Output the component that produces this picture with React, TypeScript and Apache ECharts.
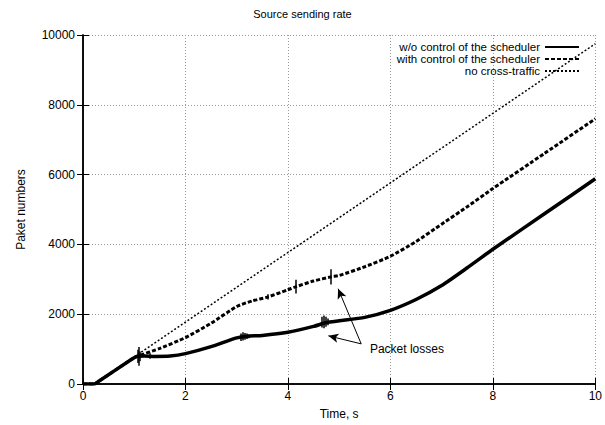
import React, { useEffect, useRef } from "react";
import * as echarts from "echarts";

const seriesNames = [
  "w/o control of the scheduler",
  "with control of the scheduler",
  "no cross-traffic",
];

const xTicks = [0, 2, 4, 6, 8, 10];
const yTicks = [0, 2000, 4000, 6000, 8000, 10000];

const noTrafficT = [0, 0.22, 10];
const noTrafficV = [0, 0, 9750];

const woControlT = [
  0, 0.22, 0.3, 0.95, 1.05, 1.2, 1.4, 1.7, 2.0, 2.5, 3.0, 3.2, 3.5, 4.0, 4.5, 4.75, 5.0, 5.5,
  6.0, 6.5, 7.0, 7.5, 8.0, 9.0, 10,
];
const woControlV = [
  0, 0, 70, 710, 790, 800, 790, 800, 870, 1070, 1320, 1370, 1390, 1480, 1650, 1760, 1810, 1910,
  2110, 2420, 2820, 3330, 3860, 4870, 5880,
];

const withControlT = [
  0, 0.22, 0.3, 0.95, 1.05, 1.5, 2.0, 2.5, 3.0, 3.3, 3.6, 4.0, 4.16, 4.5, 4.84, 5.0, 5.5, 6.0,
  6.5, 7.0, 7.5, 8.0, 9.0, 10,
];
const withControlV = [
  0, 0, 70, 710, 790, 1020, 1330, 1740, 2220, 2380, 2490, 2700, 2790, 2950, 3070, 3110, 3360, 3660,
  4080, 4580, 5080, 5600, 6600, 7600,
];

// packet-loss marks: time, low, high
const woLossT = [1.06, 1.08, 1.1, 1.3, 3.08, 3.12, 3.16, 3.2, 3.24, 4.66, 4.7, 4.74, 4.78];
const woLossLow = [600, 520, 650, 720, 1230, 1250, 1270, 1290, 1310, 1620, 1600, 1640, 1680];
const woLossHigh = [980, 1060, 930, 880, 1450, 1480, 1460, 1450, 1420, 1930, 1960, 1930, 1880];

const withLossT = [3.6, 4.16, 4.84];
const withLossLow = [2420, 2590, 2850];
const withLossHigh = [2570, 2990, 3290];

const annotationText = "Packet losses";
const arrowTail = [5.43, 1150];
const arrowTips = [
  [4.79, 1380],
  [4.98, 2730],
];
const labelAnchor = [5.6, 990];

const zip = (t: number[], v: number[]) => t.map((x, i) => [x, v[i]]);
const lossSegments = (t: number[], lo: number[], hi: number[]) =>
  t.map((x, i) => [{ coord: [x, lo[i]] }, { coord: [x, hi[i]] }]);

export default function App() {
  const ref = useRef<HTMLDivElement>(null);
  useEffect(() => {
    if (!ref.current) return;
    const chart = echarts.init(ref.current, undefined, { renderer: "svg" });
    const font = "Liberation Sans, Arial, sans-serif";
    const commonAxis = {
      min: 0,
      axisLine: { show: true, lineStyle: { color: "#000", width: 1.5 } },
      axisTick: { show: true, inside: true, length: 6, lineStyle: { color: "#000", width: 1 } },
    };
    const lossMarkLine = (t: number[], lo: number[], hi: number[]) => ({
      silent: true,
      symbol: ["none", "none"],
      label: { show: false },
      lineStyle: { color: "#000", width: 1.5, type: "solid" },
      data: lossSegments(t, lo, hi),
    });
    chart.setOption({
      animation: false,
      backgroundColor: "#fff",
      textStyle: { fontFamily: font },
      title: {
        text: "Source sending rate",
        left: "center",
        top: 3,
        textStyle: { fontSize: 11, fontWeight: "normal", color: "#000", fontFamily: font },
      },
      legend: {
        orient: "vertical",
        right: 25,
        top: 41,
        align: "right",
        itemWidth: 34,
        itemHeight: 11.5,
        itemGap: 0,
        padding: 0,
        itemStyle: { opacity: 0 },
        textStyle: { fontSize: 11.5, lineHeight: 11.5, color: "#000", fontFamily: font },
        data: seriesNames,
      },
      grid: { left: 83, right: 8, top: 35, bottom: 35, containLabel: false },
      xAxis: [
        {
          ...commonAxis,
          type: "value",
          max: 10,
          interval: 2,
          position: "bottom",
          name: "Time, s",
          nameLocation: "middle",
          nameGap: 24,
          nameTextStyle: { fontSize: 12, color: "#000", fontFamily: font },
          axisLabel: {
            color: "#000",
            fontSize: 12,
            margin: 6,
            fontFamily: font,
            customValues: xTicks,
            formatter: (v: number) => String(v),
          },
          splitLine: { show: true, lineStyle: { color: "#999", type: [1, 2], width: 1 } },
        },
        {
          ...commonAxis,
          type: "value",
          max: 10,
          interval: 2,
          position: "top",
          axisLabel: { show: false },
          splitLine: { show: false },
        },
      ],
      yAxis: [
        {
          ...commonAxis,
          type: "value",
          max: 10000,
          interval: 2000,
          position: "left",
          name: "Paket numbers",
          nameLocation: "middle",
          nameGap: 56,
          nameTextStyle: { fontSize: 12, color: "#000", fontFamily: font },
          axisLabel: {
            color: "#000",
            fontSize: 12,
            margin: 8,
            fontFamily: font,
            customValues: yTicks,
            formatter: (v: number) => String(v),
          },
          splitLine: { show: true, lineStyle: { color: "#999", type: [1, 2], width: 1 } },
        },
        {
          ...commonAxis,
          type: "value",
          max: 10000,
          interval: 2000,
          position: "right",
          axisLabel: { show: false },
          splitLine: { show: false },
        },
      ],
      series: [
        {
          name: seriesNames[0],
          type: "line",
          symbol: "none",
          smooth: 0.2,
          data: zip(woControlT, woControlV),
          lineStyle: { color: "#000", width: 3.5 },
          itemStyle: { color: "#000" },
          z: 5,
          markLine: lossMarkLine(woLossT, woLossLow, woLossHigh),
        },
        {
          name: seriesNames[1],
          type: "line",
          symbol: "none",
          smooth: 0.2,
          data: zip(withControlT, withControlV),
          lineStyle: { color: "#000", width: 3, type: [4, 2] },
          itemStyle: { color: "#000" },
          z: 4,
          markLine: lossMarkLine(withLossT, withLossLow, withLossHigh),
        },
        {
          name: seriesNames[2],
          type: "line",
          symbol: "none",
          data: zip(noTrafficT, noTrafficV),
          lineStyle: { color: "#000", width: 1.5, type: [2, 2] },
          itemStyle: { color: "#000" },
          z: 3,
          markLine: {
            silent: true,
            symbol: ["none", "arrow"],
            symbolSize: [7, 10],
            label: { show: false },
            lineStyle: { color: "#000", width: 1, type: "solid" },
            data: arrowTips.map((tip) => [{ coord: arrowTail }, { coord: tip }]),
          },
          markPoint: {
            silent: true,
            symbol: "circle",
            symbolSize: 0,
            data: [
              {
                coord: labelAnchor,
                label: {
                  show: true,
                  position: "right",
                  distance: 0,
                  formatter: annotationText,
                  color: "#000",
                  fontSize: 12,
                  fontFamily: font,
                },
              },
            ],
          },
        },
      ],
    });
    return () => chart.dispose();
  }, []);
  return <div ref={ref} style={{ width: 605, height: 425, position: "absolute", left: 0, top: 0 }} />;
}
